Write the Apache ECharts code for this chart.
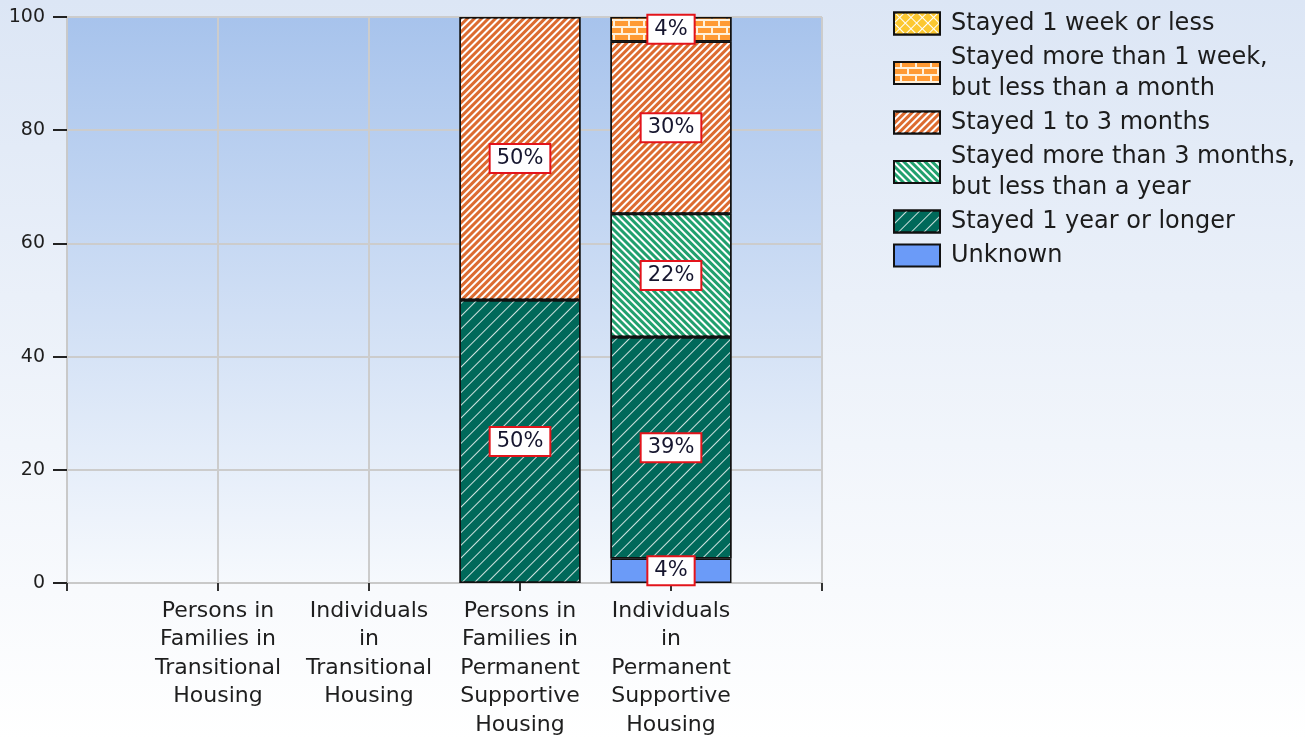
<!DOCTYPE html>
<html>
<head>
<meta charset="utf-8">
<script src="https://cdn.jsdelivr.net/npm/echarts@6/dist/echarts.min.js"></script>
<style>
  html, body { margin: 0; padding: 0; background: #fff; }
  #chart { width: 1305px; height: 740px; }
</style>
</head>
<body>
<div id="chart"></div>
<script>
// Housing programme categories (x axis)
const categories = [
  'Persons in\nFamilies in\nTransitional\nHousing',
  'Individuals\nin\nTransitional\nHousing',
  'Persons in\nFamilies in\nPermanent\nSupportive\nHousing',
  'Individuals\nin\nPermanent\nSupportive\nHousing'
];

// Length-of-stay groups, listed from the bottom of each stack upward
const stayNames = [
  'Unknown',
  'Stayed 1 year or longer',
  'Stayed more than 3 months,\nbut less than a year',
  'Stayed 1 to 3 months',
  'Stayed more than 1 week,\nbut less than a month',
  'Stayed 1 week or less'
];

// Share of people (%) in each group; null = nobody in that programme
const unknownPct        = [null, null, null, 4.35];
const yearOrLongerPct   = [null, null, 50,   39.13];
const threeMoToYearPct  = [null, null, null, 21.74];
const oneToThreeMoPct   = [null, null, 50,   30.43];
const weekToMonthPct    = [null, null, null, 4.35];
const weekOrLessPct     = [null, null, null, null];

// Y axis scale
const yMin = 0, yMax = 100, yStep = 20;

const FONT = 'DejaVu Sans';

// Empty slots at both ends so the bars sit on the tick marks
const pad = arr => [null].concat(arr, [null]);
const axisCats = [' '].concat(categories, ['  ']);

const styles = [
  { color: '#6b9bf8' },
  { color: '#00695a', decal: { color: 'rgba(255,255,255,0.8)', dashArrayX: [1, 0], dashArrayY: [1, 8], rotation: -Math.PI / 4 } },
  { color: '#21a06e', decal: { color: '#ffffff', dashArrayX: [1, 0], dashArrayY: [2, 3], rotation: Math.PI / 4 } },
  { color: '#dc6b30', decal: { color: '#ffffff', dashArrayX: [1, 0], dashArrayY: [2, 3], rotation: -Math.PI / 4 } },
  { color: '#fff1dc', decal: { color: '#ff9a34', symbol: 'rect', dashArrayX: [[13, 2], [6, 2, 7, 0]], dashArrayY: [5, 2] } },
  { color: '#ffffff', decal: { color: '#fcc830', symbol: 'rect', dashArrayX: [7, 1], dashArrayY: [7, 1], rotation: Math.PI / 4 } }
];

const values = [unknownPct, yearOrLongerPct, threeMoToYearPct, oneToThreeMoPct, weekToMonthPct, weekOrLessPct];

const series = stayNames.map((name, i) => ({
  name: name,
  type: 'bar',
  stack: 'stay',
  barWidth: 121,
  data: pad(values[i]),
  itemStyle: Object.assign({ borderColor: '#111', borderWidth: 1.5 }, styles[i]),
  emphasis: { disabled: true },
  label: {
    show: true,
    position: 'inside',
    formatter: p => (p.value == null ? '' : Math.round(p.value) + '%'),
    fontFamily: FONT,
    fontSize: 21,
    lineHeight: 24,
    color: '#15152e',
    backgroundColor: '#ffffff',
    borderColor: '#e3141b',
    borderWidth: 2,
    padding: [2, 6, 1, 6]
  }
}));

const chart = echarts.init(document.getElementById('chart'));
chart.setOption({
  animation: false,
  backgroundColor: new echarts.graphic.LinearGradient(0, 0, 0, 1, [
    { offset: 0, color: '#dce6f5' },
    { offset: 1, color: '#ffffff' }
  ]),
  grid: {
    left: 67, right: 483, top: 17, bottom: 157,
    show: true,
    borderWidth: 0,
    backgroundColor: new echarts.graphic.LinearGradient(0, 0, 0, 1, [
      { offset: 0, color: '#a7c3ec' },
      { offset: 1, color: '#f6f9fd' }
    ])
  },
  legend: {
    orient: 'vertical',
    left: 893, top: 8,
    padding: 0,
    itemGap: 3,
    itemWidth: 46, itemHeight: 22,
    icon: 'rect',
    data: stayNames.slice().reverse(),
    itemStyle: { borderColor: '#111', borderWidth: 2 },
    textStyle: { fontFamily: FONT, fontSize: 24, lineHeight: 31, color: '#1c1c1c', padding: [0, 0, 0, 6] }
  },
  xAxis: {
    type: 'category',
    data: axisCats,
    boundaryGap: false,
    axisLine: { show: true, lineStyle: { color: '#c9c9c9', width: 2 } },
    axisTick: { show: true, length: 8, lineStyle: { color: '#333', width: 2 } },
    splitLine: { show: true, lineStyle: { color: '#cccccc', width: 2 } },
    axisLabel: { interval: 0, margin: 14, fontFamily: FONT, fontSize: 22, lineHeight: 28.5, color: '#1e1e1e', align: 'center' }
  },
  yAxis: {
    type: 'value',
    min: yMin, max: yMax, interval: yStep,
    axisLine: { show: true, lineStyle: { color: '#c9c9c9', width: 2 } },
    axisTick: { show: true, length: 14, lineStyle: { color: '#222', width: 2 } },
    splitLine: { show: true, lineStyle: { color: '#cccccc', width: 2 } },
    axisLabel: { margin: 22, fontFamily: FONT, fontSize: 19, color: '#1e1e1e' }
  },
  series: series
});
</script>
</body>
</html>
